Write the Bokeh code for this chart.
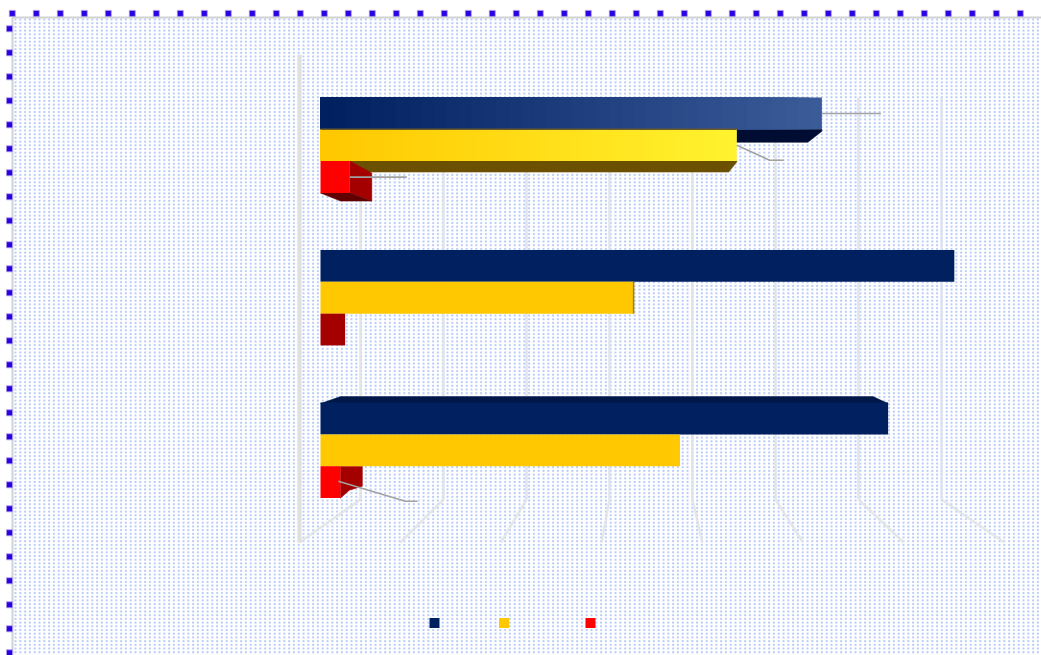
import numpy as np
from bokeh.plotting import figure
from bokeh.embed import file_html
from bokeh.resources import INLINE

# ---- data ----
categories = ["Group A", "Group B", "Group C"]
series_names = ["Navy", "Yellow", "Red"]
navy_values = [5.30, 6.70, 6.00]
yellow_values = [4.40, 3.31, 3.80]
red_values = [0.31, 0.26, 0.21]
value_ticks = [0, 1, 2, 3, 4, 5, 6, 7]
series_colors = ["#002060", "#ffc800", "#ff0000"]

# ---- layout: page pixels <-> data ----
W, H = 1041, 655
K = 94.6        # page px per value unit
SLOT = 31.8     # page px per bar slot
X0, Y0 = 320, 97
GROUP_STEP = 4.797


def X(px):
    return (np.asarray(px, dtype=float) - X0) / K


def Y(py):
    return (np.asarray(py, dtype=float) - Y0) / SLOT


p = figure(width=W, height=H, x_range=(X(0), X(W)), y_range=(Y(H), Y(0)),
           x_axis_type=None, y_axis_type=None, toolbar_location=None,
           output_backend="svg", min_border=0, outline_line_color=None,
           background_fill_color="white", border_fill_color="white")
p.grid.visible = False

# ---- dotted backdrop texture ----
bw, bh = 1041 - 14, 655 - 18
bx0, by0 = 14, 18


def cover(n, start, period, size=1.0):
    c = np.zeros(n)
    pos = np.arange(start, n + period, period)
    for a in pos:
        lo, hi = a, a + size
        i = int(np.floor(lo))
        for j in (i, i + 1):
            if 0 <= j < n:
                c[j] += max(0.0, min(hi, j + 1) - max(lo, j))
    return np.clip(c, 0, 1)


cx = cover(bw, 0.5, 4.8)
cy = cover(bh, 0.5, 3.7)
alpha = np.outer(cy, cx)
img = np.zeros((bh, bw), dtype=np.uint32)
view = img.view(dtype=np.uint8).reshape((bh, bw, 4))
view[..., 0] = 40
view[..., 1] = 100
view[..., 2] = 240
view[..., 3] = (np.clip(alpha * 1.3, 0, 1) * 255).astype(np.uint8)
p.image_rgba(image=[img], x=[float(X(bx0))], y=[float(Y(by0))],
             dw=[float(X(bx0 + bw) - X(bx0))], dh=[float(Y(by0 + bh) - Y(by0))])

# frame border
p.line(X([12, 12, 1041]), Y([655, 17, 17]), line_color="#d2d2d2", line_width=2)

# selection handles
hx = np.arange(11.8, 1041, 24.0)
p.scatter(X(hx), Y(np.full_like(hx, 12.9)), marker="square", size=6,
          fill_color="#2a00e0", line_color="#a89cf0", line_width=0.8)
hy = np.arange(28.3, 655, 24.0)
p.scatter(X(np.full_like(hy, 9.0)), Y(hy), marker="square", size=6,
          fill_color="#2a00e0", line_color="#a89cf0", line_width=0.8)

# ---- 3D walls ----
wall_color = "#dfe2ea"
for t in value_ticks:
    wx = 360 + 83 * t
    fx = 299 + 100.7 * t
    p.line(X([wx, wx]), Y([97, 499]), line_color=wall_color, line_width=2.6, line_alpha=0.9)
    p.line(X([wx, fx]), Y([499, 542]), line_color="#e2e2e2", line_width=2.6, line_alpha=0.8)
p.line(X([299, 299]), Y([54, 542]), line_color="#e0e0e0", line_width=4)


def hex_mix(a, b, f):
    a = np.array([int(a[i:i + 2], 16) for i in (1, 3, 5)], dtype=float)
    b = np.array([int(b[i:i + 2], 16) for i in (1, 3, 5)], dtype=float)
    c = a + (b - a) * f
    return "#%02x%02x%02x" % tuple(int(round(v)) for v in c)


def top_slot(g, s):
    return g * GROUP_STEP + s


def bx(v, off=0):
    return float(v) + off / K


def by(slot, off=0):
    return float(slot) + off / SLOT


def poly(xs, ys, color):
    p.patch(xs, ys, fill_color=color, line_color=color, line_width=0.5)


# ---- 3D side faces ----
# group A: undersides
v = yellow_values[0]; s = top_slot(0, 2)
poly([bx(0, 30), bx(v), bx(v), bx(v, -8), bx(0, 30)],
     [by(s), by(s), by(s, 1), by(s, 11), by(s, 11)], "#6b5000")
v = navy_values[0]; s = top_slot(0, 1)
poly([bx(yellow_values[0]), bx(v), bx(v), bx(v, -14), bx(yellow_values[0])],
     [by(s), by(s), by(s, 2), by(s, 13), by(s, 13)], "#000c32")
v = red_values[0]; s = top_slot(0, 2)
poly([bx(v), bx(v, 22), bx(v, 22), bx(v)],
     [by(s), by(s, 12), by(s, 40), by(s, 32)], "#a50000")
poly([bx(0), bx(v), bx(v, 22), bx(0, 20)],
     [by(s, 32), by(s, 32), by(s, 40), by(s, 40)], "#600000")
# group C: tops and side
v = navy_values[2]; s = top_slot(2, 0)
poly([bx(0), bx(0, 20), bx(v, -15), bx(v)],
     [by(s, 1), by(s, -6), by(s, -6), by(s, 1)], "#001848")
v = red_values[2]; s = top_slot(2, 2)
poly([bx(v), bx(v, 22), bx(v, 22), bx(v, 9), bx(v)],
     [by(s), by(s), by(s, 20), by(s, 24), by(s, 32)], "#a50000")

# ---- bars ----
# group A uses a left-to-right gradient (painted longest first), the others are flat
for s_idx, (vals, c0, c1) in enumerate([(navy_values, "#002060", "#3a5a98"),
                                        (yellow_values, "#ffc800", "#fff22e")]):
    edges = np.linspace(0, vals[0], 41)[1:][::-1]
    p.hbar(y=[top_slot(0, s_idx) + 0.5] * 40, left=0, right=edges,
           height=1.0, line_color=None,
           fill_color=[hex_mix(c0, c1, f) for f in np.linspace(1, 0, 40)])
    p.hbar(y=[top_slot(g, s_idx) + 0.5 for g in (1, 2)], left=0, right=[vals[1], vals[2]],
           height=1.0, line_color=None, fill_color=series_colors[s_idx])

p.hbar(y=[top_slot(g, 2) + 0.5 for g in (0, 2)], left=0,
       right=[red_values[0], red_values[2]], height=1.0, line_color=None, fill_color="#ff0000")
p.hbar(y=[top_slot(1, 2) + 0.5], left=0, right=[red_values[1]], height=1.0,
       line_color=None, fill_color="#a50000")

# small shaded edges
p.line([0, yellow_values[0]], [by(top_slot(0, 1)), by(top_slot(0, 1))], line_color="#6a5a28", line_width=1.5)
p.line([bx(yellow_values[1]), bx(yellow_values[1])], [top_slot(1, 1), top_slot(1, 2)],
       line_color="#a08000", line_width=1.5)

# ---- leader lines ----
leader = "#a2a2a2"
s = top_slot(0, 0)
p.line([bx(navy_values[0]), bx(navy_values[0], 59)], [by(s, 16), by(s, 16)], line_color=leader, line_width=1.6)
s = top_slot(0, 1)
p.line([bx(yellow_values[0]), bx(yellow_values[0], 33), bx(yellow_values[0], 47)],
       [by(s, 16), by(s, 31), by(s, 31)], line_color=leader, line_width=1.6)
s = top_slot(0, 2)
p.line([bx(red_values[0]), bx(red_values[0], 57)], [by(s, 16), by(s, 16)], line_color=leader, line_width=1.6)
s = top_slot(2, 2)
p.line([bx(red_values[2], -2), bx(red_values[2], 65), bx(red_values[2], 77)],
       [by(s, 15), by(s, 35), by(s, 35)], line_color=leader, line_width=1.6)

# ---- legend keys (their labels are not visible in the picture) ----
p.scatter(X([434, 503.5, 590]), Y([622.5, 622.5, 622.5]), marker="square", size=10,
          fill_color=series_colors[:2] + ["#ff0000"], line_color=None)

open("out.html", "w").write(file_html(p, INLINE))
